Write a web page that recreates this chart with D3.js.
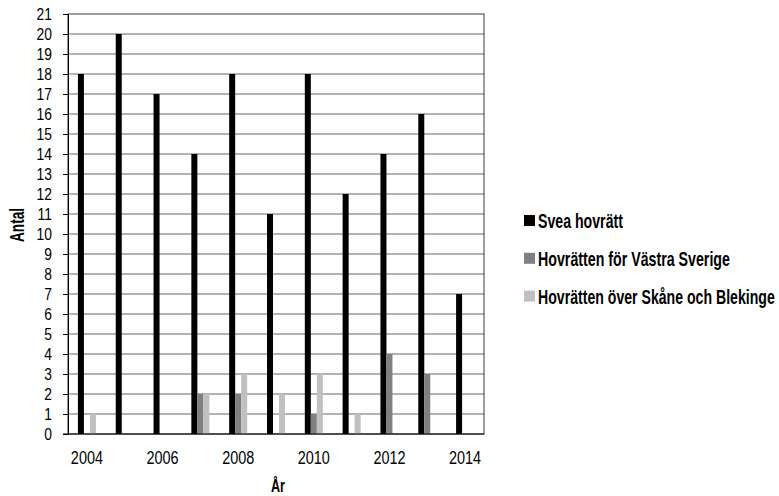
<!DOCTYPE html>
<html>
<head>
<meta charset="utf-8">
<script src="https://cdn.jsdelivr.net/npm/d3@7/dist/d3.min.js"></script>
<style>
  html, body { margin: 0; padding: 0; background: #fff; }
  svg { display: block; }
  text { font-family: "Liberation Sans", Arial, sans-serif; fill: #000; }
</style>
</head>
<body>
<svg id="chart" width="779" height="496"></svg>
<script>
// Number of cases per year and court of appeal
const years = [2004, 2005, 2006, 2007, 2008, 2009, 2010, 2011, 2012, 2013, 2014];
const sveaHovratt   = [18, 20, 17, 14, 18, 11, 18, 12, 14, 16, 7];
const vastraSverige = [0, 0, 0, 2, 2, 0, 1, 0, 4, 3, 0];
const skaneBlekinge = [1, 0, 0, 2, 3, 2, 3, 1, 0, 0, 0];
const seriesNames  = ["Svea hovrätt", "Hovrätten för Västra Sverige", "Hovrätten över Skåne och Blekinge"];
const seriesColors = ["#000000", "#808080", "#c0c0c0"];
const xTickLabels = [2004, 2006, 2008, 2010, 2012, 2014];
const yTicks = d3.range(0, 22);

const seriesValues = [sveaHovratt, vastraSverige, skaneBlekinge];
const rows = years.map((yr, i) => ({ year: yr, values: seriesValues.map(s => s[i]) }));

const svg = d3.select("#chart");
const plot = { left: 68, right: 484, top: 14, bottom: 434 };

const x = d3.scaleBand().domain(years).range([plot.left, plot.right]).padding(0);
const y = d3.scaleLinear().domain([0, 21]).range([plot.bottom, plot.top]);
const groupWidth = x.bandwidth() * 0.476;
const xInner = d3.scaleBand().domain(d3.range(seriesNames.length)).range([0, groupWidth]);

// Narrow lettering: place a text at (px, py) and squeeze it horizontally
function narrowText(parent, str, px, py, opts) {
  const t = parent.append("text")
    .attr("text-anchor", opts.anchor || "start")
    .style("font-size", opts.size + "px")
    .style("font-weight", opts.bold ? "bold" : "normal")
    .text(str);
  let sx = opts.scale || 1;
  if (opts.width) sx = opts.width / t.node().getComputedTextLength();
  const rot = opts.rotate ? ` rotate(${opts.rotate})` : "";
  t.attr("transform", `translate(${px},${py})${rot} scale(${sx},1)`);
  return t;
}

// Horizontal gridlines
svg.append("g")
  .selectAll("line")
  .data(yTicks.filter(t => t > 0 && t < 21))
  .join("line")
  .attr("x1", plot.left).attr("x2", plot.right)
  .attr("y1", d => y(d)).attr("y2", d => y(d))
  .attr("stroke", "#9a9a9a")
  .attr("stroke-width", 1.6);

// Plot frame
svg.append("rect")
  .attr("x", plot.left).attr("y", plot.top)
  .attr("width", plot.right - plot.left).attr("height", plot.bottom - plot.top)
  .attr("fill", "none")
  .attr("stroke", "#3a3a3a")
  .attr("stroke-width", 1);

// Bars
const groups = svg.append("g")
  .selectAll("g")
  .data(rows)
  .join("g")
  .attr("transform", d => `translate(${x(d.year) + (x.bandwidth() - groupWidth) / 2},0)`);

groups.selectAll("rect")
  .data(d => d.values.map((v, k) => ({ v, k })))
  .join("rect")
  .attr("x", d => xInner(d.k))
  .attr("width", xInner.bandwidth())
  .attr("y", d => y(d.v))
  .attr("height", d => y(0) - y(d.v))
  .attr("fill", d => seriesColors[d.k]);

// Y axis line and ticks
const yAxis = svg.append("g")
  .attr("transform", `translate(${plot.left},0)`)
  .call(d3.axisLeft(y).tickValues(yTicks).tickSize(5).tickFormat(""));
yAxis.select(".domain").attr("stroke", "#000");
yAxis.selectAll(".tick line").attr("stroke", "#000");

// Y tick labels
const yLabels = svg.append("g");
yTicks.forEach(v => narrowText(yLabels, String(v), 52, y(v) + 5.8, { size: 16.5, scale: 0.84, anchor: "end" }));

// X axis baseline
svg.append("line")
  .attr("x1", plot.left - 5).attr("x2", plot.right)
  .attr("y1", y(0)).attr("y2", y(0))
  .attr("stroke", "#000").attr("stroke-width", 1.2);

// X tick labels (every other year)
const xLabels = svg.append("g");
xTickLabels.forEach(d => narrowText(xLabels, String(d), x(d) + x.bandwidth() / 2, 464,
  { size: 19, scale: 0.76, anchor: "middle" }));

// Axis titles
narrowText(svg, "År", (plot.left + plot.right) / 2 + 2, 492, { size: 18, bold: true, width: 14, anchor: "middle" });
narrowText(svg, "Antal", 24, (plot.top + plot.bottom) / 2 + 1, { size: 20, bold: true, width: 34, anchor: "middle", rotate: -90 });

// Legend
const legendWidths = [85, 192, 237];
const legend = svg.append("g");
seriesNames.forEach((name, i) => {
  const cy = 220.5 + i * 37.8;
  legend.append("rect")
    .attr("x", 524).attr("y", cy - 5.5)
    .attr("width", 11).attr("height", 11)
    .attr("fill", seriesColors[i]);
  narrowText(legend, name, 538, cy + 7.5, { size: 20, bold: true, width: legendWidths[i] });
});
</script>
</body>
</html>
